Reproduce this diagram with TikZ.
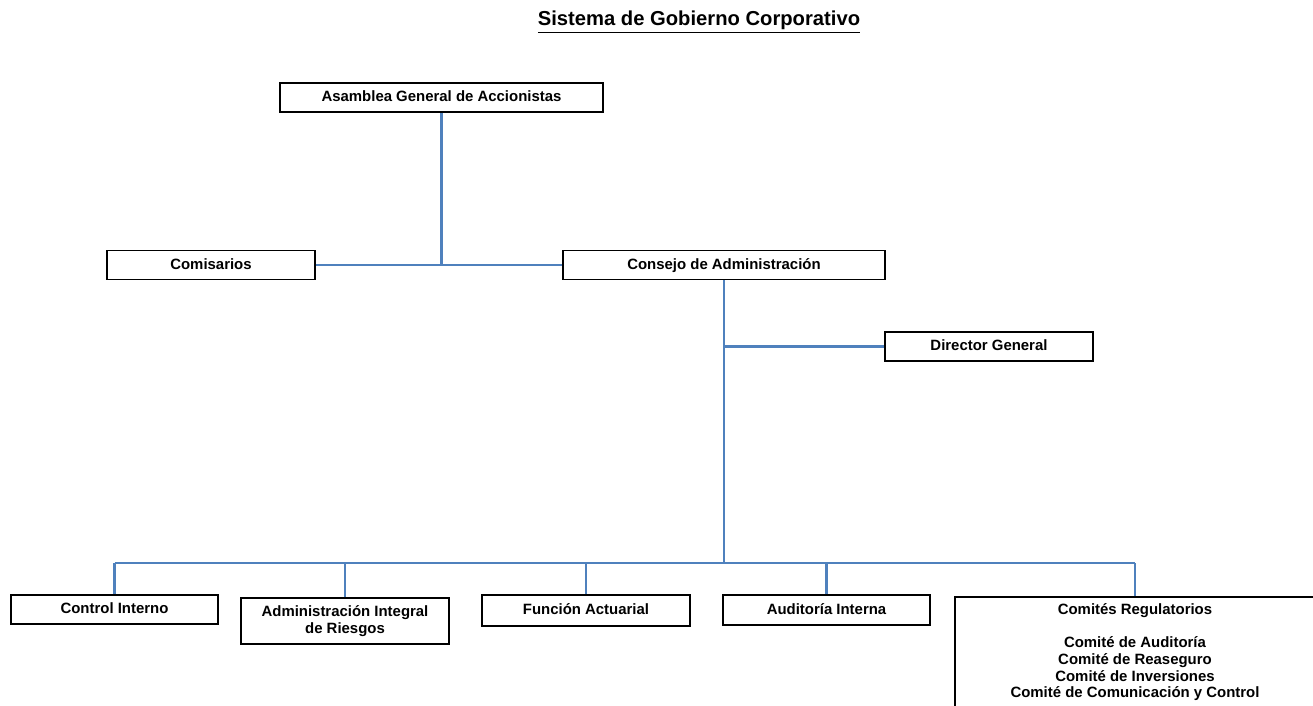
\documentclass[tikz,border=0pt]{standalone}
\usepackage{fontspec}
\setmainfont{Liberation Sans}
\usetikzlibrary{calc}
\definecolor{linkblue}{HTML}{4F81BD}
\newcommand{\orgfont}{\fontsize{8.5}{9.5}\selectfont\bfseries}
\tikzset{
	orgbox/.style={draw=black,line width=1.1pt,fill=white,minimum width=4.14cm,
		minimum height=0.58cm,inner sep=1pt,align=center,font=\orgfont,
		text height=6.6pt,text depth=1.8pt},
	twoline/.style={text height=,text depth=},
	link/.style={draw=linkblue,line width=1.2pt}
}

\begin{document}
\begin{tikzpicture}[x=0.02cm,y=-0.02cm]
	\useasboundingbox (0,0) rectangle (1313,706);
	\clip (0,0) rectangle (1313,706);
	\node[font=\fontsize{11.5}{13}\selectfont\bfseries] (title) at (699,22) {\underline{Sistema de Gobierno Corporativo}};
	% top levels
	\node[orgbox,minimum width=6.46cm] (asam) at (441.5,97.5) {Asamblea General de Accionistas};
	\node[orgbox,minimum width=4.16cm] (com) at (211,265) {Comisarios};
	\node[orgbox,minimum width=6.44cm] (cons) at (724,265) {Consejo de Administraci\'on};
	\node[orgbox,minimum width=4.16cm] (dg) at (989,346.5) {Director General};
	% bottom row
	\node[orgbox] (ci) at (114.5,609.5) {Control Interno};
	\node[orgbox,twoline,minimum width=4.16cm,minimum height=0.92cm] (air) at (345,621) {Administraci\'on Integral\\de Riesgos};
	\node[orgbox,minimum width=4.16cm,minimum height=0.62cm] (fa) at (586,610.5) {Funci\'on Actuarial};
	\node[orgbox,minimum height=0.6cm] (ai) at (826.5,610) {Auditor\'ia Interna};
	\node[orgbox,twoline,minimum width=7.2cm,minimum height=2.6cm,anchor=north] (cr) at (1135,596) {};
	\node[anchor=north,font=\orgfont,align=center,inner sep=0pt] (crtxt) at ($(cr.north)+(0,7)$)
		{Comit\'es Regulatorios\\[9.5pt]Comit\'e de Auditor\'ia\\Comit\'e de Reaseguro\\Comit\'e de Inversiones\\Comit\'e de Comunicaci\'on y Control};
	% connectors
	\coordinate (bus) at (724,563);
	\draw[link] (asam.south) -- (asam.south |- com.east);
	\draw[link] (com.east) -- (cons.west);
	\draw[link] (cons.south) -- (bus);
	\draw[link] (dg.west) -- (dg.west -| cons.south);
	\draw[link] (ci.north |- bus) -- (cr.north |- bus);
	\foreach \n in {ci,air,fa,ai,cr}
		\draw[link] (\n.north) -- (\n.north |- bus);
\end{tikzpicture}
\end{document}
